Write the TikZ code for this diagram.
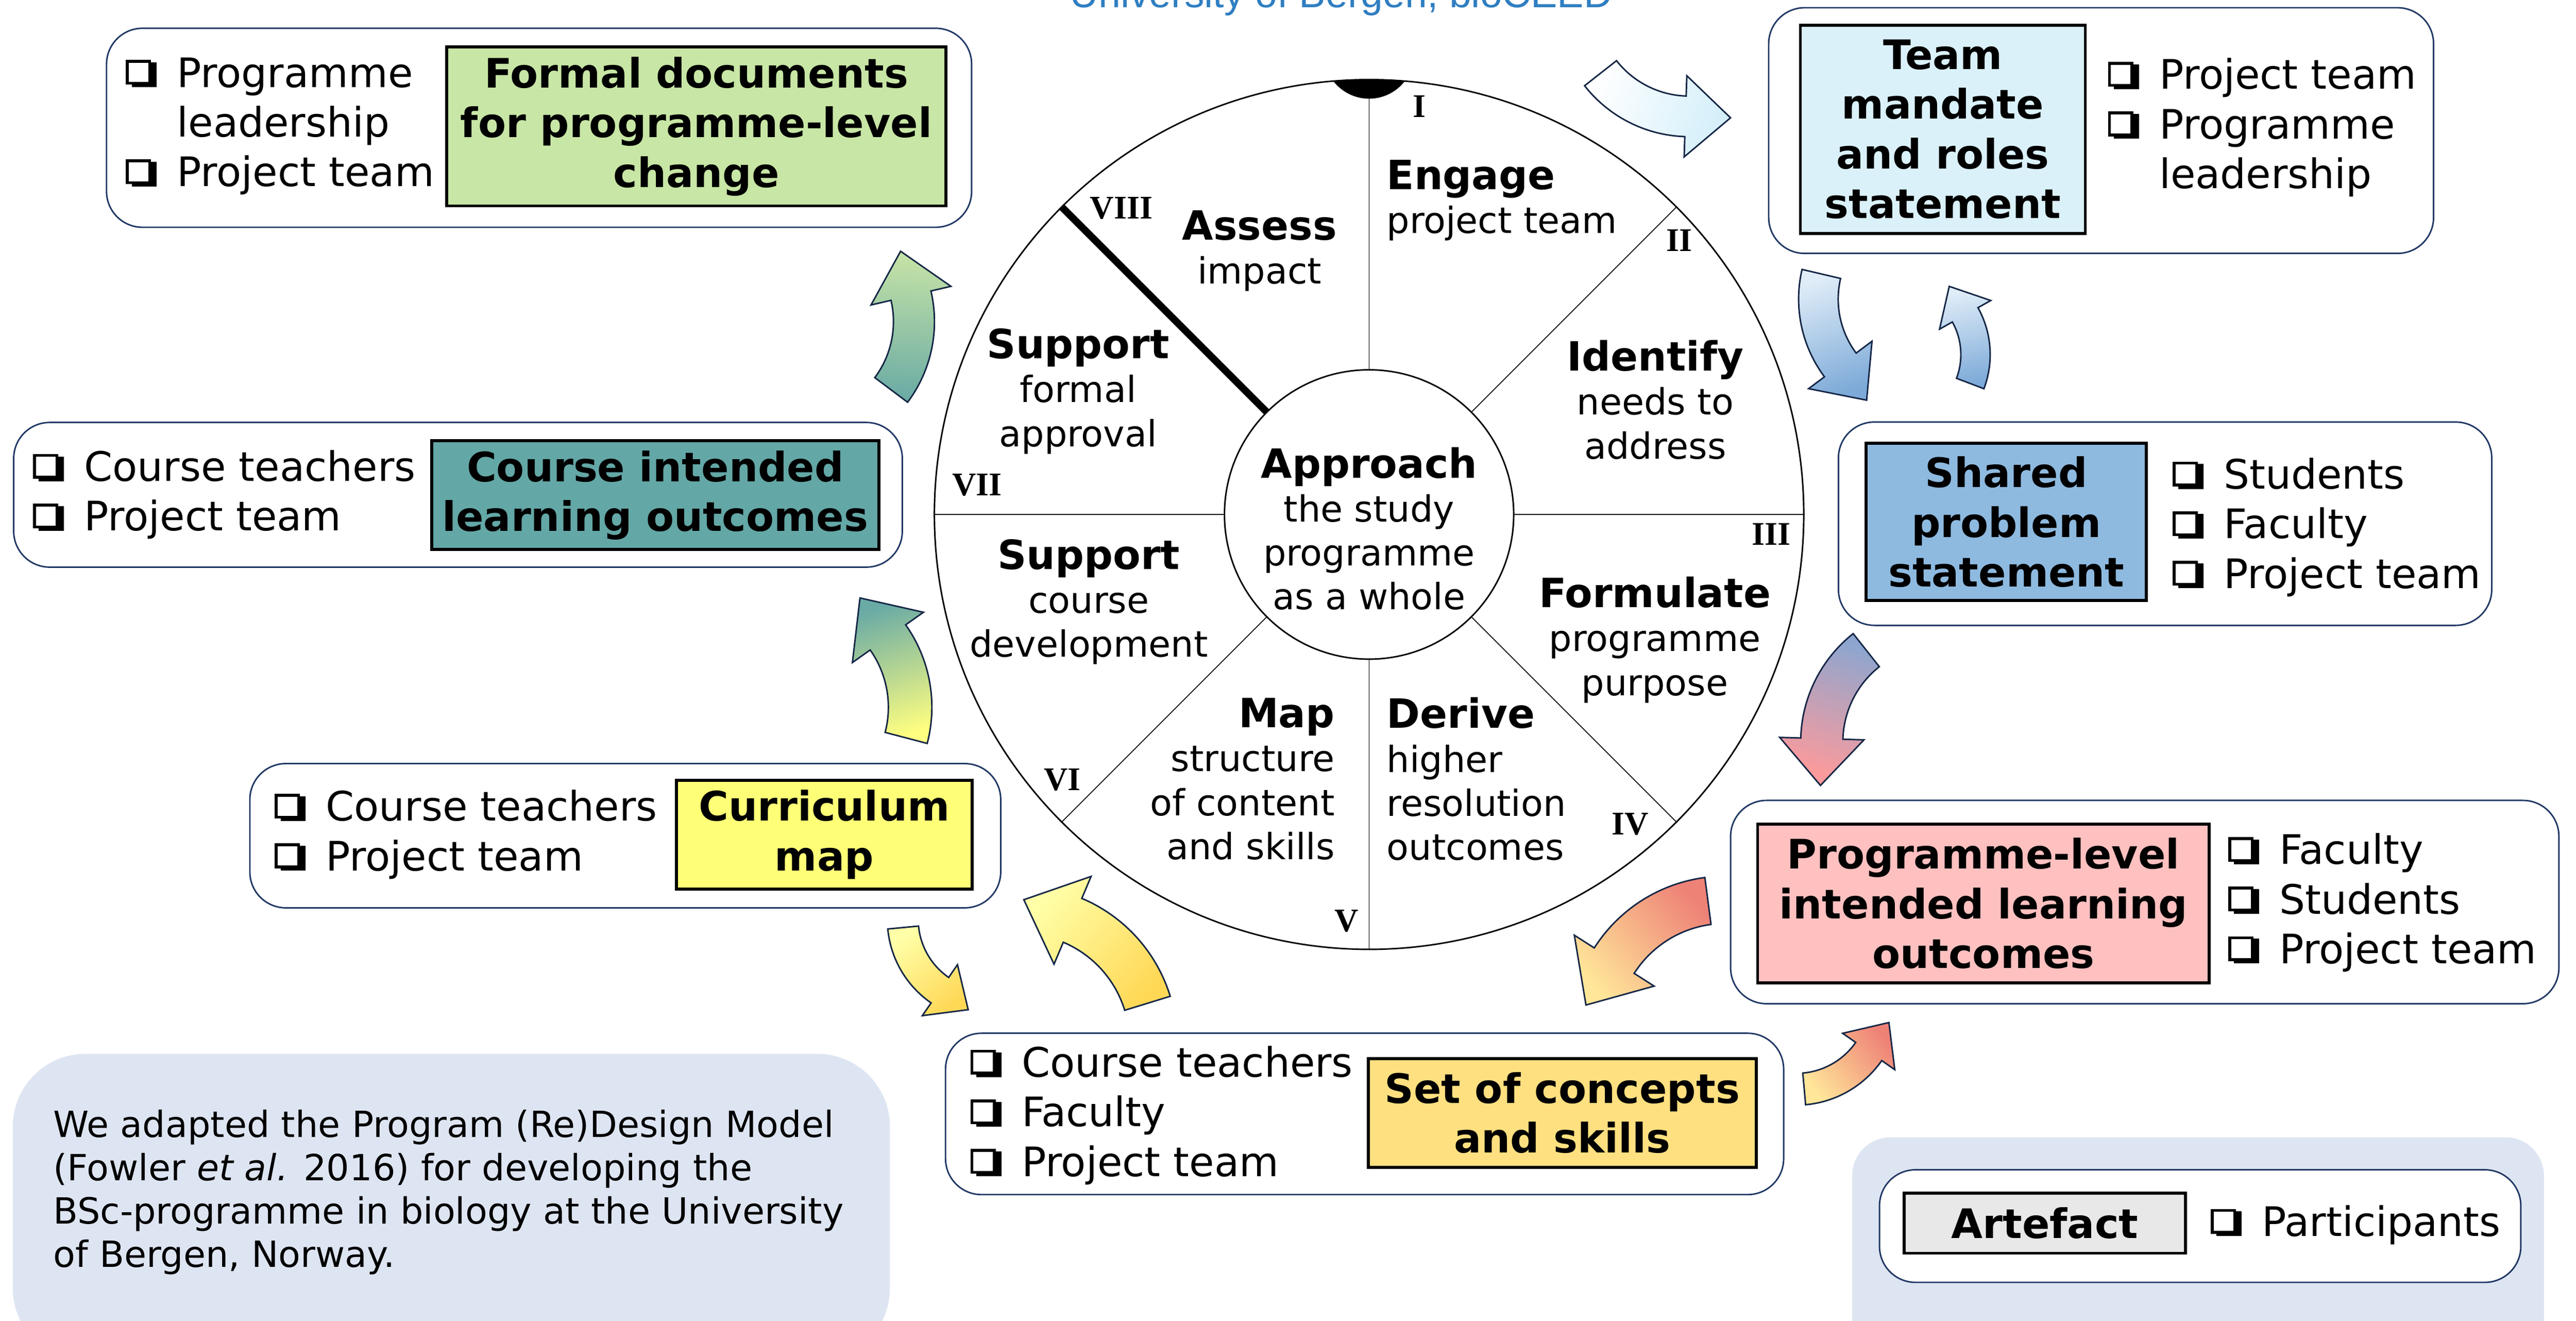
\documentclass[tikz,border=0pt]{standalone}
\usepackage{fontspec}
\setmainfont{DejaVu Sans}
\newfontfamily\numfont{Liberation Serif}
\newfontfamily\titlefont{Liberation Sans}
\usepackage{xcolor}
\definecolor{navy}{HTML}{203864}
\definecolor{ucblue}{HTML}{2F7EC1}
\definecolor{formalgreen}{HTML}{C8E6A5}
\definecolor{cilteal}{HTML}{63A7A6}
\definecolor{mapyellow}{HTML}{FFFF77}
\definecolor{conceptgold}{HTML}{FFE080}
\definecolor{ilopink}{HTML}{FFC0C0}
\definecolor{problemblue}{HTML}{8EBAE0}
\definecolor{mandatecyan}{HTML}{DAF1FA}
\definecolor{artefactgrey}{HTML}{E8E8E8}
\definecolor{notebg}{HTML}{DEE5F2}
% arrow gradient colours
\definecolor{arrcyan}{HTML}{D3EFFA}
\definecolor{arrpaleblue}{HTML}{E0EDF8}
\definecolor{arrblue}{HTML}{7DAAD8}
\definecolor{arrsteel}{HTML}{8EA6CF}
\definecolor{arrpink}{HTML}{FF9A9A}
\definecolor{arrsalmon}{HTML}{EE8277}
\definecolor{arrcream}{HTML}{FFE699}
\definecolor{arrgold}{HTML}{FFD856}
\definecolor{arrlemon}{HTML}{FFFFA8}
\definecolor{arryellow}{HTML}{FFFF80}
\definecolor{arrteal}{HTML}{6AABA5}
\definecolor{arrgreen}{HTML}{C6E3A6}

% shadowed check box in front of each participant
\newcommand{\tickbox}{%
  \makebox[0.76em][l]{%
    \rlap{\hspace{0.14em}\rule{0.62em}{0.61em}}%
    \raisebox{0.13em}{\setlength{\fboxsep}{0pt}\setlength{\fboxrule}{0.07em}%
      \fcolorbox{black}{white}{\rule{0pt}{0.47em}\rule{0.48em}{0pt}}}}%
  \hspace{0.5em}}
\newcommand{\wheelhead}[1]{{\fontsize{13.4}{14.6}\selectfont\bfseries #1}}
\newcommand{\boxfont}{\fontsize{13.5}{16.5}\selectfont}
\newcommand{\wheelfont}{\fontsize{12}{14.6}\selectfont}
% curved block arrow: tail centre, rotation, scale, shading
\newcommand{\bendarrow}[4]{%
  \draw[flowarrow, shift={#1}, rotate=#2, scale=#3, #4]
    (0.18,0) arc[start angle=0, end angle=50, radius=1.18]
    -- (-0.1258,1.0418) -- (-0.6636,1.0231) -- (-0.5886,0.4903)
    -- (-0.4729,0.6282) arc[start angle=50, end angle=0, radius=0.82] -- cycle;}

\tikzset{
  stagebox/.style={draw=navy, line width=0.5pt, rounded corners=0.42cm, fill=white, inner sep=0},
  artefact/.style={draw=black, line width=1pt, align=center, inner sep=0, font=\boxfont\bfseries},
  people/.style={align=left, anchor=west, inner sep=0, font=\boxfont},
  wheeltext/.style={align=center, inner sep=0, font=\wheelfont},
  numeral/.style={font=\numfont\bfseries\fontsize{11}{12}\selectfont, inner sep=0},
  spoke/.style={line width=0.3pt},
  flowarrow/.style={draw=navy!70!black, line width=0.5pt},
}

\begin{document}
\begin{tikzpicture}
\useasboundingbox (0,0) rectangle (30.105,-15.43);

% Title, cut by the top edge
\node[anchor=base, font=\titlefont\fontsize{13.2}{15}\selectfont, text=ucblue, inner sep=0] (title) at (15.675,-0.085) {University of Bergen, bioCEED};

% Grey-blue panels
\fill[notebg, rounded corners=0.85cm] (0.15,-12.31) rectangle (10.4,-15.9);
\fill[notebg, rounded corners=0.45cm] (21.645,-13.285) rectangle (29.73,-15.9);

% The wheel
\node[circle, draw, line width=0.5pt, minimum size=10.16cm, inner sep=0] (wheel) at (16,-6.01) {};
\begin{scope}
\clip (16,-6.01) circle (5.08);
\fill (16,-0.625) circle (0.5275); % marker at I
\end{scope}
\node[circle, draw, line width=0.5pt, minimum size=3.38cm, inner sep=0] (hub) at (16,-6.01) {};
\foreach \a in {0,45,90,180,225,270,315}
  \draw[spoke] (hub.\a) -- (wheel.\a);
\draw[line width=2.4pt] (hub.135) -- (wheel.135); % start/end of the cycle

% Wheel labels
\node[wheeltext] (approach) at (16.0,-6.175) {\wheelhead{Approach}\\the study\\programme\\as a whole};
\node[wheeltext, anchor=west, align=left] (engage) at (16.2,-2.34) {\wheelhead{Engage}\\project team};
\node[wheeltext] (identify) at (19.345,-4.67) {\wheelhead{Identify}\\needs to\\address};
\node[wheeltext] (formulate) at (19.34,-7.475) {\wheelhead{Formulate}\\programme\\purpose};
\node[wheeltext, anchor=west, align=left] (derive) at (16.2,-9.1) {\wheelhead{Derive}\\higher\\resolution\\outcomes};
\node[wheeltext, anchor=east, align=right] (map) at (15.605,-9.1) {\wheelhead{Map}\\structure\\of content\\and skills};
\node[wheeltext] (supportcourse) at (12.725,-7.03) {\wheelhead{Support}\\course\\development};
\node[wheeltext] (supportformal) at (12.6,-4.57) {\wheelhead{Support}\\formal\\approval};
\node[wheeltext] (assess) at (14.72,-2.93) {\wheelhead{Assess}\\impact};

% Step numerals
\node[numeral] (n1) at (16.585,-1.24) {I};
\node[numeral] (n2) at (19.625,-2.81) {II};
\node[numeral] (n3) at (20.7,-6.24) {III};
\node[numeral] (n4) at (19.05,-9.625) {IV};
\node[numeral] (n5) at (15.735,-10.76) {V};
\node[numeral] (n6) at (12.415,-9.11) {VI};
\node[numeral] (n7) at (11.42,-5.665) {VII};
\node[numeral] (n8) at (13.105,-2.435) {VIII};

% Stage I: team mandate
\node[stagebox, minimum width=7.77cm, minimum height=2.87cm] (mandatebox) at (24.555,-1.525) {};
\node[artefact, fill=mandatecyan, minimum width=3.33cm, minimum height=2.43cm] (mandate) at (22.705,-1.51) {Team\\mandate\\and roles\\statement};
\node[people] (mandatepeople) at (24.63,-1.49) {\tickbox Project team\\\tickbox Programme\\\phantom{\tickbox}leadership};

% Stage II: shared problem
\node[stagebox, minimum width=7.635cm, minimum height=2.375cm] (problembox) at (25.3025,-6.1175) {};
\node[artefact, fill=problemblue, minimum width=3.275cm, minimum height=1.835cm] (problem) at (23.4475,-6.0975) {Shared\\problem\\statement};
\node[people] (problempeople) at (25.385,-6.16) {\tickbox Students\\\tickbox Faculty\\\tickbox Project team};

% Stage III: programme-level ILOs
\node[stagebox, minimum width=9.68cm, minimum height=2.375cm] (plobox) at (25.065,-10.5375) {};
\node[artefact, fill=ilopink, minimum width=5.28cm, minimum height=1.855cm] (plo) at (23.18,-10.5525) {Programme-level\\intended learning\\outcomes};
\node[people] (plopeople) at (26.035,-10.545) {\tickbox Faculty\\\tickbox Students\\\tickbox Project team};

% Stage IV: concepts and skills
\node[stagebox, minimum width=9.795cm, minimum height=1.885cm] (conceptbox) at (15.9475,-13.0125) {};
\node[artefact, fill=conceptgold, minimum width=4.535cm, minimum height=1.27cm] (concept) at (18.2575,-13.0) {Set of concepts\\and skills};
\node[people] (conceptpeople) at (11.335,-13.03) {\tickbox Course teachers\\\tickbox Faculty\\\tickbox Project team};

% Stage V: curriculum map
\node[stagebox, minimum width=8.775cm, minimum height=1.685cm] (curmapbox) at (7.3075,-9.7625) {};
\node[artefact, fill=mapyellow, minimum width=3.455cm, minimum height=1.27cm] (curmap) at (9.6325,-9.75) {Curriculum\\map};
\node[people] (curmappeople) at (3.205,-9.75) {\tickbox Course teachers\\\tickbox Project team};

% Stage VI: course ILOs
\node[stagebox, minimum width=10.385cm, minimum height=1.69cm] (cilobox) at (5.3525,-5.78) {};
\node[artefact, fill=cilteal, minimum width=5.225cm, minimum height=1.27cm] (cilo) at (7.6575,-5.785) {Course intended\\learning outcomes};
\node[people] (cilopeople) at (0.38,-5.78) {\tickbox Course teachers\\\tickbox Project team};

% Stage VII: formal documents
\node[stagebox, minimum width=10.11cm, minimum height=2.325cm] (formalbox) at (6.30,-1.4925) {};
\node[artefact, fill=formalgreen, minimum width=5.835cm, minimum height=1.855cm] (formal) at (8.1375,-1.4775) {Formal documents\\for programme-level\\change};
\node[people] (formalpeople) at (1.465,-1.475) {\tickbox Programme\\\phantom{\tickbox}leadership\\\tickbox Project team};

% Curved arrows between the stages
\bendarrow{(18.705,-0.855)}{-141.9}{1.317}{bottom color=white, top color=arrcyan, shading angle=-108.9}
\bendarrow{(21.285,-3.2)}{166.79}{1.285}{bottom color=arrpaleblue, top color=arrblue, shading angle=-160.2}
\bendarrow{(23.025,-4.48)}{-20.79}{0.952}{bottom color=arrblue, top color=arrpaleblue, shading angle=12.2}
\bendarrow{(21.81,-7.595)}{128.33}{1.368}{bottom color=arrsteel, top color=arrpink, shading angle=161.3}
\bendarrow{(19.96,-10.525)}{97.48}{1.536}{bottom color=arrsalmon, top color=arrcream, shading angle=130.45}
\bendarrow{(21.085,-12.72)}{-84.91}{1.031}{bottom color=arrcream, top color=arrsalmon, shading angle=-51.94}
\bendarrow{(13.41,-11.72)}{17.09}{1.5455}{bottom color=arrgold, top color=arrlemon, shading angle=50.06}
\bendarrow{(10.555,-10.835)}{-174.6}{1.004}{bottom color=arrlemon, top color=arrgold, shading angle=-141.63}
\bendarrow{(10.59,-8.62)}{-14.7}{1.412}{bottom color=arryellow, top color=arrteal, shading angle=18.27}
\bendarrow{(10.415,-4.555)}{-36.85}{1.3315}{bottom color=arrteal, top color=arrgreen, shading angle=-3.88}

% Note and legend
\node[anchor=west, align=left, inner sep=0, font=\fontsize{12}{14.4}\selectfont] (note) at (0.615,-13.925) {We adapted the Program (Re)Design Model\\(Fowler \textit{et al.} 2016) for developing the\\BSc-programme in biology at the University\\of Bergen, Norway.};
\node[stagebox, minimum width=7.495cm, minimum height=1.315cm] (legendbox) at (25.7125,-14.3225) {};
\node[artefact, fill=artefactgrey, minimum width=3.285cm, minimum height=0.70cm] (legendartefact) at (23.8975,-14.29) {Artefact};
\node[people] (legendpeople) at (25.83,-14.31) {\tickbox Participants};

\end{tikzpicture}
\end{document}
